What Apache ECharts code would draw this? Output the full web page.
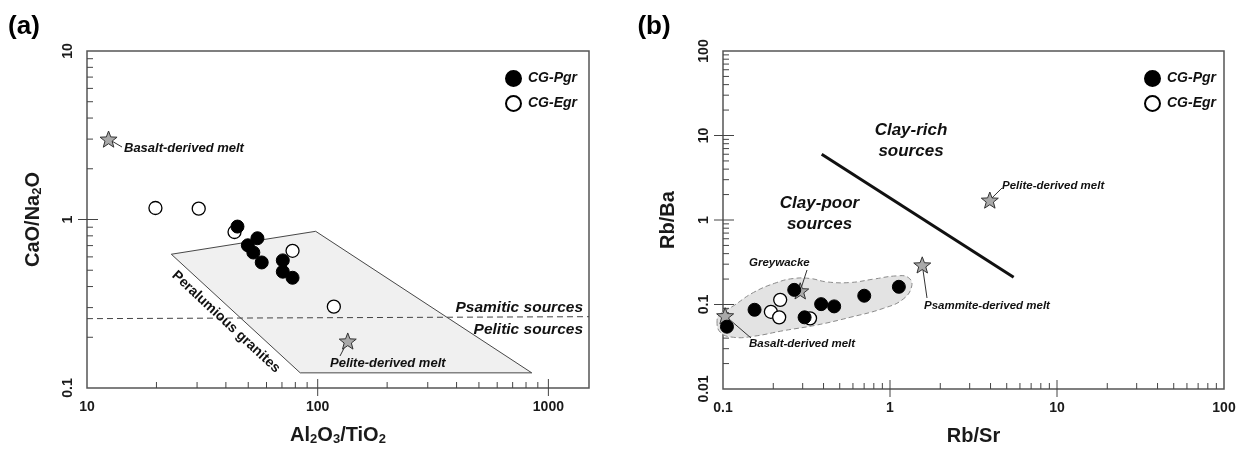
<!DOCTYPE html>
<html><head><meta charset="utf-8">
<script src="https://cdn.jsdelivr.net/npm/echarts@6/dist/echarts.min.js"></script>
<style>html,body{margin:0;padding:0;background:#fff}#c{width:1244px;height:451px}</style>
</head><body><div id="c"></div>
<script>
// ---------- Panel (a): CaO/Na2O vs Al2O3/TiO2 ----------
const aPgrX = [44.9, 54.8, 49.8, 52.6, 57.2, 70.6, 70.6, 77.8];
const aPgrY = [0.908, 0.774, 0.703, 0.637, 0.556, 0.572, 0.490, 0.451];
const aEgrX = [19.8, 30.5, 43.6, 77.8, 117.5];
const aEgrY = [1.17, 1.16, 0.843, 0.652, 0.304];
const aStarNames = ['Basalt-derived melt', 'Pelite-derived melt'];
const aStarX = [12.4, 135];
const aStarY = [3.0, 0.19];
const aFieldX = [23.2, 98, 847, 84];
const aFieldY = [0.622, 0.851, 0.123, 0.123];
const aDividerX = [10, 1500];
const aDividerY = [0.258, 0.265];
const aXLabels = ['10', '100', '1000'];
const aYLabels = ['0.1', '1', '10'];

// ---------- Panel (b): Rb/Ba vs Rb/Sr ----------
const bPgrX = [0.1056, 0.1545, 0.267, 0.308, 0.387, 0.463, 0.701, 1.13];
const bPgrY = [0.0546, 0.0866, 0.149, 0.0705, 0.101, 0.095, 0.127, 0.162];
const bEgrX = [0.220, 0.1935, 0.217, 0.332];
const bEgrY = [0.1136, 0.082, 0.0705, 0.0686];
const bStarNames = ['Basalt-derived melt', 'Greywacke', 'Psammite-derived melt', 'Pelite-derived melt'];
const bStarX = [0.103, 0.290, 1.56, 3.96];
const bStarY = [0.0736, 0.145, 0.294, 1.72];
const bLineX = [0.39, 5.5];
const bLineY = [6.0, 0.21];
const bFieldX = [0.0921, 0.0964, 0.1157, 0.1524, 0.230, 0.365, 0.577, 0.912, 1.20, 1.35, 1.285, 1.096, 0.794, 0.577, 0.419, 0.333, 0.264, 0.210, 0.1524, 0.1157, 0.0964];
const bFieldY = [0.0643, 0.0469, 0.0409, 0.0421, 0.0490, 0.0572, 0.0705, 0.090, 0.116, 0.166, 0.209, 0.218, 0.1995, 0.182, 0.185, 0.203, 0.203, 0.182, 0.139, 0.0966, 0.077];
const bXLabels = ['0.1', '1', '10', '100'];
const bYLabels = ['0.01', '0.1', '1', '10', '100'];

const FONT = "'Liberation Sans', Arial, Helvetica, sans-serif";
const INK = '#1a1a1a';
const STAR = 'path://M50,0 L62.34,33.01 L97.55,34.55 L69.97,56.49 L79.39,90.45 L50,71 L20.61,90.45 L30.03,56.49 L2.45,34.55 L37.66,33.01 Z';

const pairs = (xs, ys) => xs.map((x, i) => [x, ys[i]]);
const fmt = labels => v => {
  for (const l of labels) if (Math.abs(Math.log10(v) - Math.log10(parseFloat(l))) < 1e-6) return l;
  return '';
};
// minor ticks at 2..9 times each power of ten inside [lo, hi]
function minorTicks(lo, hi) {
  const out = [];
  for (let e = Math.floor(Math.log10(lo)); e <= Math.ceil(Math.log10(hi)); e++) {
    for (let m = 2; m <= 9; m++) {
      const v = m * Math.pow(10, e);
      if (v > lo * 1.0001 && v < hi * 0.9999) out.push(v);
    }
  }
  return out;
}
function majorTicks(labels) {
  return labels.map(parseFloat);
}

function tickSeries(gi, xMin, xMax, yMin, yMax, xLabels, yLabels) {
  const data = [];
  minorTicks(xMin, xMax).forEach(v => data.push([v, yMin, 0]));
  majorTicks(xLabels).filter(v => v > xMin * 1.0001 && v < xMax * 0.9999).forEach(v => data.push([v, yMin, 1]));
  minorTicks(yMin, yMax).forEach(v => data.push([xMin, v, 2]));
  majorTicks(yLabels).filter(v => v > yMin * 1.0001 && v < yMax * 0.9999).forEach(v => data.push([xMin, v, 3]));
  return {
    type: 'custom', xAxisIndex: gi, yAxisIndex: gi, silent: true, z: 4, clip: false,
    data,
    renderItem(params, api) {
      const p = api.coord([api.value(0), api.value(1)]);
      const k = api.value(2);
      let s;
      if (k === 0) s = { x1: p[0], y1: p[1], x2: p[0], y2: p[1] - 6 };
      else if (k === 1) s = { x1: p[0], y1: p[1] + 8, x2: p[0], y2: p[1] - 9 };
      else if (k === 2) s = { x1: p[0], y1: p[1], x2: p[0] + 6, y2: p[1] };
      else s = { x1: p[0] - 9, y1: p[1], x2: p[0] + 11, y2: p[1] };
      return { type: 'line', shape: s, style: { stroke: '#444', lineWidth: 1 } };
    }
  };
}

function fieldSeries(gi, xs, ys, style, smooth) {
  return {
    type: 'custom', xAxisIndex: gi, yAxisIndex: gi, silent: true, z: 1, clip: false,
    data: [[xs[0], ys[0]]],
    renderItem(params, api) {
      const pts = xs.map((x, i) => api.coord([x, ys[i]]));
      return { type: 'polygon', shape: { points: pts, smooth: smooth }, style: style };
    }
  };
}

const pgrStyle = { color: '#000', borderColor: '#000', borderWidth: 1, opacity: 1 };
const egrStyle = { color: '#fff', borderColor: '#000', borderWidth: 1.3, opacity: 1 };
const starStyle = { color: '#a9a9a9', borderColor: '#333', borderWidth: 1, opacity: 1 };

const tickLabel = labels => ({
  formatter: fmt(labels), fontSize: 14, fontWeight: 'bold', color: INK, fontFamily: FONT
});
const richName = {
  b: { fontSize: 20, fontWeight: 'bold', color: INK, fontFamily: FONT },
  s: { fontSize: 13, fontWeight: 'bold', color: INK, fontFamily: FONT, padding: [8, 0, 0, 0] }
};

function logAxis(gi, min, max, labels, extra) {
  return Object.assign({
    gridIndex: gi, type: 'log', logBase: 10, min, max,
    axisLine: { show: false }, axisTick: { show: false }, splitLine: { show: false },
    axisLabel: Object.assign({ margin: 12 }, tickLabel(labels)),
    nameLocation: 'middle',
    nameTextStyle: { fontSize: 20, fontWeight: 'bold', color: INK, fontFamily: FONT, rich: richName }
  }, extra);
}

const legendCommon = {
  orient: 'vertical', top: 65, itemWidth: 15, itemHeight: 15, itemGap: 8, icon: 'circle',
  selectedMode: false, data: ['CG-Pgr', 'CG-Egr'],
  textStyle: { fontSize: 14, fontWeight: 'bold', fontStyle: 'italic', color: '#111', fontFamily: FONT, padding: [0, 0, 0, 2] }
};

const option = {
  animation: false,
  backgroundColor: '#fff',
  grid: [
    { left: 87, top: 51, width: 502, height: 339, show: true, borderColor: '#555', borderWidth: 1.5 },
    { left: 723, top: 51, width: 501, height: 339, show: true, borderColor: '#555', borderWidth: 1.5 }
  ],
  xAxis: [
    logAxis(0, 10, 1500, aXLabels, { name: '{b|Al}{s|2}{b|O}{s|3}{b|/TiO}{s|2}', nameGap: 37 }),
    logAxis(1, 0.1, 100, bXLabels, { name: '{b|Rb/Sr}', nameGap: 37 })
  ],
  yAxis: [
    logAxis(0, 0.1, 10, aYLabels, { name: '{b|CaO/Na}{s|2}{b|O}', nameGap: 43,
      axisLabel: Object.assign({ margin: 12, rotate: 90 }, tickLabel(aYLabels)) }),
    logAxis(1, 0.01, 100, bYLabels, { name: '{b|Rb/Ba}', nameGap: 45,
      axisLabel: Object.assign({ margin: 12, rotate: 90 }, tickLabel(bYLabels)) })
  ],
  legend: [
    Object.assign({ left: 500 }, legendCommon),
    Object.assign({ left: 1139 }, legendCommon)
  ],
  series: [
    // panel a
    fieldSeries(0, aFieldX, aFieldY, { fill: '#f0f0f0', stroke: '#333', lineWidth: 0.9 }, 0),
    { type: 'line', xAxisIndex: 0, yAxisIndex: 0, data: pairs(aDividerX, aDividerY), symbol: 'none', silent: true, z: 3,
      lineStyle: { color: '#444', width: 1, type: [6, 4] } },
    tickSeries(0, 10, 1500, 0.1, 10, aXLabels, aYLabels),
    { name: 'stars-a', type: 'scatter', xAxisIndex: 0, yAxisIndex: 0, symbol: STAR, symbolKeepAspect: true, symbolSize: 17,
      itemStyle: starStyle, data: pairs(aStarX, aStarY), z: 5 },
    { name: 'CG-Egr', type: 'scatter', xAxisIndex: 0, yAxisIndex: 0, symbolSize: 13, itemStyle: egrStyle, data: pairs(aEgrX, aEgrY), z: 6 },
    { name: 'CG-Pgr', type: 'scatter', xAxisIndex: 0, yAxisIndex: 0, symbolSize: 13, itemStyle: pgrStyle, data: pairs(aPgrX, aPgrY), z: 7 },
    // panel b
    fieldSeries(1, bFieldX, bFieldY, { fill: '#e3e3e3', stroke: '#8a8a8a', lineWidth: 1, lineDash: [5, 3] }, 0.45),
    { type: 'line', xAxisIndex: 1, yAxisIndex: 1, data: pairs(bLineX, bLineY), symbol: 'none', silent: true, z: 3,
      lineStyle: { color: '#111', width: 3 } },
    tickSeries(1, 0.1, 100, 0.01, 100, bXLabels, bYLabels),
    { name: 'stars-b', type: 'scatter', xAxisIndex: 1, yAxisIndex: 1, symbol: STAR, symbolKeepAspect: true, symbolSize: 17,
      itemStyle: starStyle, data: pairs(bStarX, bStarY), z: 5 },
    { name: 'CG-Egr', type: 'scatter', xAxisIndex: 1, yAxisIndex: 1, symbolSize: 13, itemStyle: egrStyle, data: pairs(bEgrX, bEgrY), z: 6 },
    { name: 'CG-Pgr', type: 'scatter', xAxisIndex: 1, yAxisIndex: 1, symbolSize: 13, itemStyle: pgrStyle, data: pairs(bPgrX, bPgrY), z: 7 }
  ]
};

const chart = echarts.init(document.getElementById('c'));
chart.setOption(option);

// ---------- annotations ----------
const px = (gi, x, y) => chart.convertToPixel({ gridIndex: gi }, [x, y]);
const txt = (text, x, y, size, opts) => Object.assign({
  type: 'text', z: 20, x, y,
  style: Object.assign({ text, fill: '#111', fontSize: size, fontWeight: 'bold', fontStyle: 'italic', fontFamily: FONT,
    align: 'left', verticalAlign: 'middle' }, (opts && opts.style) || {})
}, opts && opts.el ? opts.el : {});
const pointer = (p, x2, y2) => ({ type: 'line', z: 1, silent: true,
  shape: { x1: p[0], y1: p[1], x2, y2 }, style: { stroke: '#333', lineWidth: 1 } });

const aS = aStarX.map((x, i) => px(0, x, aStarY[i]));
const bS = bStarX.map((x, i) => px(1, x, bStarY[i]));

chart.setOption({
  graphic: [
    txt('(a)', 24, 27, 26, { style: { fontStyle: 'normal', align: 'center', fill: '#000' } }),
    txt('(b)', 654, 27, 26, { style: { fontStyle: 'normal', align: 'center', fill: '#000' } }),
    // panel a
    pointer(aS[0], 122, 147),
    txt(aStarNames[0], 124, 148.5, 13),
    pointer(aS[1], 340, 356),
    txt(aStarNames[1], 330, 363, 13),
    txt('Psamitic sources', 583, 308, 15.5, { style: { align: 'right' } }),
    txt('Pelitic sources', 583, 330, 15.5, { style: { align: 'right' } }),
    txt('Peralumious granites', 226, 322, 14, { style: { fontStyle: 'normal', align: 'center' },
      el: { rotation: -43 * Math.PI / 180 } }),
    // panel b
    txt('Clay-rich\nsources', 911, 141, 17, { style: { align: 'center', lineHeight: 21 } }),
    txt('Clay-poor\nsources', 819.5, 214, 17, { style: { align: 'center', lineHeight: 21 } }),
    pointer(bS[0], 751, 338),
    txt(bStarNames[0], 749, 343.5, 11.5),
    pointer(bS[1], 807, 270),
    txt(bStarNames[1], 749, 263, 11.5),
    pointer(bS[2], 927, 298),
    txt(bStarNames[2], 924, 305.5, 11.5),
    pointer(bS[3], 1002, 188),
    txt(bStarNames[3], 1002, 186, 11.5)
  ]
});
</script>
</body></html>
